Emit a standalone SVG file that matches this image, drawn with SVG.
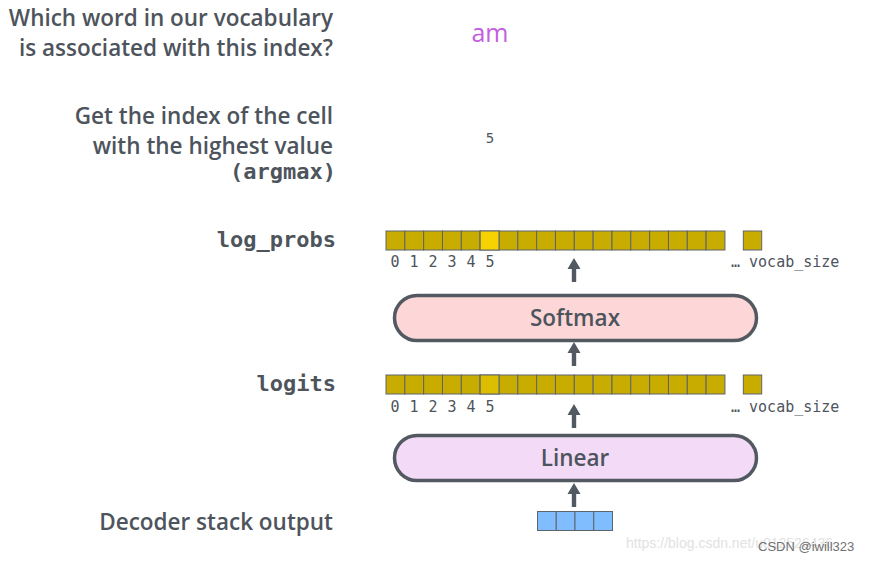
<svg xmlns="http://www.w3.org/2000/svg" width="869" height="561" viewBox="0 0 869 561">
<defs>
<style>
.lbl{font-family:"Open Sans","Noto Sans",sans-serif;font-weight:600;font-size:22.5px;fill:#4e545c;text-anchor:end}
.mono{font-family:"DejaVu Sans Mono",monospace;font-weight:bold;font-size:22px;fill:#4e545c;text-anchor:end}
.idx{font-family:"DejaVu Sans Mono",monospace;font-size:15px;fill:#4e545c}
.cell{fill:#c8ac00;stroke:#5e646c;stroke-width:1}
.blue{fill:#80bdff;stroke:#5e646c;stroke-width:1}
.box{stroke:#535961;stroke-width:3.5}
.boxt{font-family:"Open Sans","Noto Sans",sans-serif;font-weight:600;font-size:22.5px;fill:#4e545c;text-anchor:middle}
.arr{fill:#535961}
</style>
<g id="cells18">
<rect class="cell" x="386" y="0" width="18.83" height="19"/>
<rect class="cell" x="404.83" y="0" width="18.83" height="19"/>
<rect class="cell" x="423.66" y="0" width="18.83" height="19"/>
<rect class="cell" x="442.49" y="0" width="18.83" height="19"/>
<rect class="cell" x="461.32" y="0" width="18.83" height="19"/>
<rect class="cell" x="480.15" y="0" width="18.83" height="19"/>
<rect class="cell" x="498.98" y="0" width="18.83" height="19"/>
<rect class="cell" x="517.81" y="0" width="18.83" height="19"/>
<rect class="cell" x="536.64" y="0" width="18.83" height="19"/>
<rect class="cell" x="555.47" y="0" width="18.83" height="19"/>
<rect class="cell" x="574.3" y="0" width="18.83" height="19"/>
<rect class="cell" x="593.13" y="0" width="18.83" height="19"/>
<rect class="cell" x="611.96" y="0" width="18.83" height="19"/>
<rect class="cell" x="630.79" y="0" width="18.83" height="19"/>
<rect class="cell" x="649.62" y="0" width="18.83" height="19"/>
<rect class="cell" x="668.45" y="0" width="18.83" height="19"/>
<rect class="cell" x="687.28" y="0" width="18.83" height="19"/>
<rect class="cell" x="706.11" y="0" width="18.83" height="19"/>
<rect class="cell" x="743.3" y="0" width="18.4" height="19"/>
</g>
<g id="digits">
<text class="idx" x="395" y="0" text-anchor="middle">0</text>
<text class="idx" x="414" y="0" text-anchor="middle">1</text>
<text class="idx" x="433" y="0" text-anchor="middle">2</text>
<text class="idx" x="452" y="0" text-anchor="middle">3</text>
<text class="idx" x="471" y="0" text-anchor="middle">4</text>
<text class="idx" x="490" y="0" text-anchor="middle">5</text>
<text class="idx" x="731" y="0">… vocab_size</text>
</g>
<path id="arrow" d="M-2.2,24 L-2.2,11 L-6.5,11 L0,0 L6.5,11 L2.2,11 L2.2,24 Z"/>
</defs>
<rect width="869" height="561" fill="#ffffff"/>

<g id="q-labels">
<text class="lbl" x="333" y="26">Which word in our vocabulary</text>
<text class="lbl" x="333" y="56">is associated with this index?</text>
<text class="lbl" x="333" y="124">Get the index of the cell</text>
<text class="lbl" x="333" y="154">with the highest value</text>
<text class="mono" x="336" y="179">(argmax)</text>
</g>
<g id="word"><text x="490" y="42" font-family="Open Sans, Noto Sans, sans-serif" font-size="25" fill="#c55ee0" text-anchor="middle">am</text></g>
<g id="argmax-val"><text x="490" y="143" font-family="DejaVu Sans Mono, monospace" font-size="14" fill="#4e545c" text-anchor="middle">5</text></g>

<g id="log_probs">
<text class="mono" x="336" y="247">log_probs</text>
<use href="#cells18" y="231"/>
<rect x="480.15" y="231" width="18.83" height="19" fill="#f5d200" stroke="#5e646c" stroke-width="1"/>
<use href="#digits" y="267"/>
</g>

<g id="softmax">
<rect class="box" x="394.5" y="295.5" width="362" height="45" rx="22.5" fill="#fdd7d7"/>
<text class="boxt" x="575" y="326">Softmax</text>
</g>

<g id="logits">
<text class="mono" x="336" y="391">logits</text>
<use href="#cells18" y="375"/>
<rect x="480.15" y="375" width="18.83" height="19" fill="#dcbe00" stroke="#5e646c" stroke-width="1"/>
<use href="#digits" y="412"/>
</g>

<g id="linear">
<rect class="box" x="394.5" y="435.5" width="362" height="45" rx="22.5" fill="#f3dbf8"/>
<text class="boxt" x="575" y="466">Linear</text>
</g>

<g id="decoder">
<text class="lbl" x="333" y="530">Decoder stack output</text>
<rect class="blue" x="537.5" y="511.5" width="18.75" height="19"/>
<rect class="blue" x="556.25" y="511.5" width="18.75" height="19"/>
<rect class="blue" x="575" y="511.5" width="18.75" height="19"/>
<rect class="blue" x="593.75" y="511.5" width="18.75" height="19"/>
</g>

<g id="connectors" class="arr">
<use href="#arrow" x="574" y="258"/>
<use href="#arrow" x="574" y="342"/>
<use href="#arrow" x="574" y="404"/>
<use href="#arrow" x="574" y="483"/>
</g>

<g id="watermark">
<text x="626" y="548" font-family="Liberation Sans, Arial, sans-serif" font-size="14" fill="#e2e2e2">https://blog.csdn.net/u012526436</text>
<text x="758" y="551" font-family="Liberation Sans, Arial, sans-serif" font-size="13" fill="#707070">CSDN @iwill323</text>
</g>
</svg>
